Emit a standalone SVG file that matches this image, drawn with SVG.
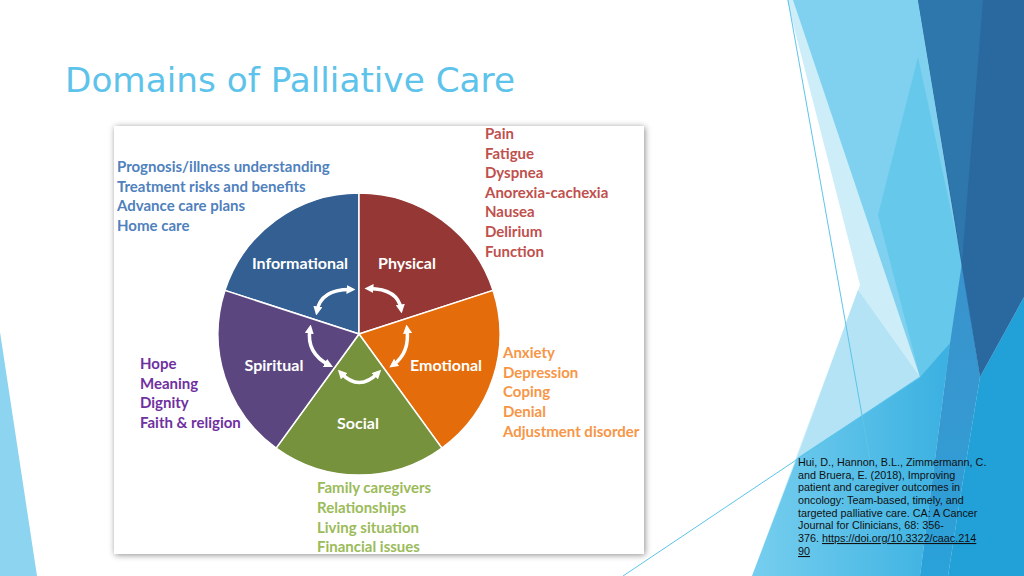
<svg xmlns="http://www.w3.org/2000/svg" width="1024" height="576" viewBox="0 0 1024 576">
<defs>
<style>
.lbl{font-family:Lato,"Liberation Sans",sans-serif;font-weight:bold;font-size:16px;fill:#fff;text-anchor:middle}
.lst{font-family:Lato,"Liberation Sans",sans-serif;font-weight:bold;font-size:15px}
.inf{fill:#4f81bd}.phy{fill:#c0504d}.emo{fill:#f79646}.soc{fill:#9bbb59}.spi{fill:#7030a0}
.wedge{stroke:#fff;stroke-width:1.5}
.arr{fill:none;stroke:#fff;stroke-width:3.5;marker-start:url(#ah);marker-end:url(#ah)}
.cit{font-family:"Liberation Sans",sans-serif;font-size:10.8px;fill:#111}
.deco{fill:none;stroke:#5cc4ea;stroke-width:1}
</style>
<marker id="ah" viewBox="0 0 10 10" refX="5" refY="5" markerWidth="9" markerHeight="9" markerUnits="userSpaceOnUse" orient="auto-start-reverse">
<path d="M0,0 L10,5 L0,10 Z" fill="#fff"/>
</marker>
<filter id="sh" x="-5%" y="-5%" width="110%" height="110%">
<feDropShadow dx="1" dy="1" stdDeviation="3" flood-color="#000" flood-opacity="0.45"/>
</filter>
<linearGradient id="gl" x1="760" y1="0" x2="940" y2="0" gradientUnits="userSpaceOnUse">
<stop offset="0" stop-color="#74cdee"/>
<stop offset="1" stop-color="#3db2e2"/>
</linearGradient>
<linearGradient id="gm" x1="0" y1="262" x2="0" y2="576" gradientUnits="userSpaceOnUse">
<stop offset="0" stop-color="#3a92cc"/>
<stop offset="0.5" stop-color="#3699d1"/>
<stop offset="1" stop-color="#2aa2da"/>
</linearGradient>
</defs>
<rect width="1024" height="576" fill="#fff"/>
<g id="decoration">
<polygon points="0,332 0,576 37,576" fill="#8dd4f0"/>
<polygon points="787,0 1024,0 1024,576 752,576 860,285" fill="#cdeef9"/>
<polygon points="858,290 920,377 797,458" fill="#b3e3f5"/>
<polygon points="793,0 918,0 980,377 920,377" fill="#7fd1ef"/>
<polygon points="918,57 962,262 950,343 920,377 878,215" fill="#66c8eb"/>
<polygon points="797,458 920,377 950,343 920,576 752,576" fill="url(#gl)"/>
<polygon points="962,262 980,377 963,480 948,576 920,576 950,343" fill="url(#gm)"/>
<polygon points="980,377 1024,297 1024,576 948,576 963,480" fill="#22a0d8"/>
<polygon points="918,0 1024,0 1024,297 980,377" fill="#2a68a0"/>
<polygon points="918,0 983,0 962,262" fill="#2e77ac"/>
<line class="deco" x1="788" y1="0" x2="870" y2="460"/>
<line class="deco" x1="623" y1="576" x2="920" y2="377"/>
</g>
<text x="65" y="92" font-family="'DejaVu Sans',sans-serif" font-size="34" fill="#5ec3ea" textLength="450" lengthAdjust="spacingAndGlyphs">Domains of Palliative Care</text>
<rect x="114" y="126" width="530" height="428" fill="#fff" filter="url(#sh)"/>
<g id="informational">
<path class="wedge" fill="#335f92" d="M359,334 L224.9,290.4 A141,141 0 0 1 359,193 Z"/>
<text class="lbl" x="300" y="269">Informational</text>
<text class="lst inf" x="117" y="172">Prognosis/illness understanding</text>
<text class="lst inf" x="117" y="192">Treatment risks and benefits</text>
<text class="lst inf" x="117" y="211">Advance care plans</text>
<text class="lst inf" x="117" y="231">Home care</text>
</g>
<g id="physical">
<path class="wedge" fill="#953735" d="M359,334 L359,193 A141,141 0 0 1 493.1,290.4 Z"/>
<text class="lbl" x="407" y="269">Physical</text>
<text class="lst phy" x="485" y="139">Pain</text>
<text class="lst phy" x="485" y="159">Fatigue</text>
<text class="lst phy" x="485" y="178">Dyspnea</text>
<text class="lst phy" x="485" y="198">Anorexia-cachexia</text>
<text class="lst phy" x="485" y="217">Nausea</text>
<text class="lst phy" x="485" y="237">Delirium</text>
<text class="lst phy" x="485" y="257">Function</text>
</g>
<g id="emotional">
<path class="wedge" fill="#e46c0a" d="M359,334 L493.1,290.4 A141,141 0 0 1 441.9,448.1 Z"/>
<text class="lbl" x="446" y="371">Emotional</text>
<text class="lst emo" x="503" y="358">Anxiety</text>
<text class="lst emo" x="503" y="378">Depression</text>
<text class="lst emo" x="503" y="397">Coping</text>
<text class="lst emo" x="503" y="417">Denial</text>
<text class="lst emo" x="503" y="437">Adjustment disorder</text>
</g>
<g id="social">
<path class="wedge" fill="#76923c" d="M359,334 L441.9,448.1 A141,141 0 0 1 276.1,448.1 Z"/>
<text class="lbl" x="358" y="429">Social</text>
<text class="lst soc" x="317" y="493">Family caregivers</text>
<text class="lst soc" x="317" y="513">Relationships</text>
<text class="lst soc" x="317" y="533">Living situation</text>
<text class="lst soc" x="317" y="552">Financial issues</text>
</g>
<g id="spiritual">
<path class="wedge" fill="#5c4680" d="M359,334 L276.1,448.1 A141,141 0 0 1 224.9,290.4 Z"/>
<text class="lbl" x="274" y="371">Spiritual</text>
<text class="lst spi" x="140" y="369">Hope</text>
<text class="lst spi" x="140" y="389">Meaning</text>
<text class="lst spi" x="140" y="408">Dignity</text>
<text class="lst spi" x="140" y="428">Faith &amp; religion</text>
</g>
<g id="connectors">
<path class="arr" d="M351,289.5 Q321,289 317,311"/>
<path class="arr" d="M369,288.5 Q398,289 401,309"/>
<path class="arr" d="M407,329 Q410,353 393,365"/>
<path class="arr" d="M310,329 Q306,353 329,365"/>
<path class="arr" d="M341,373 Q359,392 378,373"/>
</g>
<g id="citation" class="cit">
<text x="798" y="466">Hui, D., Hannon, B.L., Zimmermann, C.</text>
<text x="798" y="479">and Bruera, E. (2018), Improving</text>
<text x="798" y="491">patient and caregiver outcomes in</text>
<text x="798" y="504">oncology: Team-based, timely, and</text>
<text x="798" y="517">targeted palliative care. CA: A Cancer</text>
<text x="798" y="529">Journal for Clinicians, 68: 356-</text>
<text x="798" y="542">376. <tspan text-decoration="underline">https://doi.org/10.3322/caac.214</tspan></text>
<text x="798" y="555"><tspan text-decoration="underline">90</tspan></text>
</g>
</svg>
